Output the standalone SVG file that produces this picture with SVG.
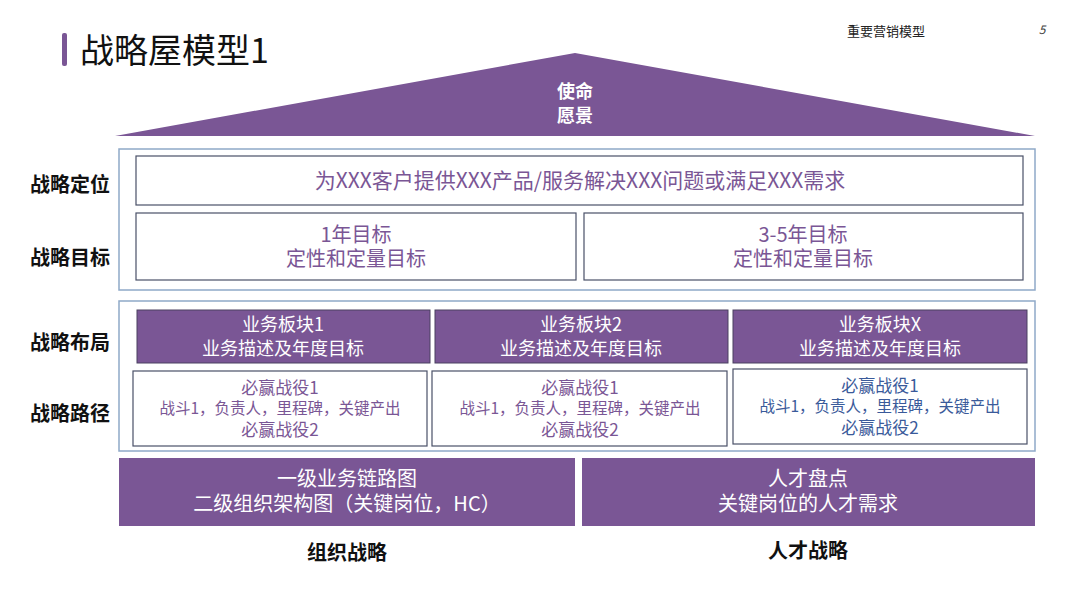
<svg xmlns="http://www.w3.org/2000/svg" width="1080" height="608" viewBox="0 0 1080 608">
<style>
text{font-family:"Noto Sans CJK SC","Noto Sans",sans-serif;text-anchor:middle}
.frame{fill:#fff;stroke:#8fa9c8;stroke-width:1.5}
.wb{fill:#fff;stroke:#4a5068;stroke-width:1.2}
.pb{fill:#7a5695;stroke:#4a4060;stroke-width:1}
.pf{fill:#7a5695}
.lbl{font-size:20px;font-weight:bold;fill:#111}
.pt{font-size:20px;fill:#7a5695}
.wt{font-size:18px;fill:#fff}
.st{font-size:15.5px;fill:#7a5695}
.bt{fill:#3a5a9a}
</style>
<rect x="0" y="0" width="1080" height="608" fill="#fff"/>
<rect x="62" y="33" width="5" height="33" rx="2" fill="#7a5695"/>
<text x="80" y="63" style="text-anchor:start;font-size:34px;fill:#111">战略屋模型1</text>
<text x="886" y="36" style="font-size:13px;fill:#222">重要营销模型</text>
<text x="1042" y="34" style="font-size:12px;font-style:italic;fill:#444">5</text>
<g id="roof"><polygon points="575,53 115,136 1035,136" class="pf"/>
<text x="575" y="98" style="font-size:18px;font-weight:bold;fill:#fff">使命</text>
<text x="575" y="122" style="font-size:18px;font-weight:bold;fill:#fff">愿景</text></g>
<g id="labels">
<text x="70" y="192" class="lbl">战略定位</text>
<text x="70" y="265" class="lbl">战略目标</text>
<text x="70" y="350" class="lbl">战略布局</text>
<text x="70" y="421" class="lbl">战略路径</text>
<text x="347" y="560" class="lbl">组织战略</text>
<text x="808" y="558" class="lbl">人才战略</text>
</g>
<rect x="119" y="149" width="916" height="141" class="frame"/>
<g id="position"><rect x="136" y="156" width="887" height="49" class="wb"/>
<text x="580" y="188" class="pt" style="font-size:21px">为XXX客户提供XXX产品/服务解决XXX问题或满足XXX需求</text></g>
<g id="goal1"><rect x="136" y="213" width="440" height="67" class="wb"/>
<text x="356" y="242" class="pt">1年目标</text><text x="356" y="266" class="pt">定性和定量目标</text></g>
<g id="goal2"><rect x="584" y="213" width="439" height="67" class="wb"/>
<text x="803" y="242" class="pt">3-5年目标</text><text x="803" y="266" class="pt">定性和定量目标</text></g>
<rect x="119" y="301" width="916" height="150" class="frame"/>
<g id="biz1"><rect x="137" y="310" width="293" height="53" class="pb"/>
<text x="283" y="331" class="wt">业务板块1</text><text x="283" y="355" class="wt">业务描述及年度目标</text></g>
<g id="biz2"><rect x="435" y="310" width="293" height="53" class="pb"/>
<text x="581" y="331" class="wt">业务板块2</text><text x="581" y="355" class="wt">业务描述及年度目标</text></g>
<g id="bizx"><rect x="733" y="310" width="294" height="53" class="pb"/>
<text x="880" y="331" class="wt">业务板块X</text><text x="880" y="355" class="wt">业务描述及年度目标</text></g>
<g id="path1"><rect x="133" y="371" width="294" height="75" class="wb"/>
<text x="280" y="394" class="pt" style="font-size:17px">必赢战役1</text>
<text x="280" y="414" class="st">战斗1，负责人，里程碑，关键产出</text>
<text x="280" y="436" class="pt" style="font-size:17px">必赢战役2</text></g>
<g id="path2"><rect x="432" y="371" width="295" height="75" class="wb"/>
<text x="580" y="394" class="pt" style="font-size:17px">必赢战役1</text>
<text x="580" y="414" class="st">战斗1，负责人，里程碑，关键产出</text>
<text x="580" y="436" class="pt" style="font-size:17px">必赢战役2</text></g>
<g id="pathx"><rect x="733" y="369" width="294" height="75" class="wb"/>
<text x="880" y="392" class="pt bt" style="font-size:17px">必赢战役1</text>
<text x="880" y="412" class="st bt">战斗1，负责人，里程碑，关键产出</text>
<text x="880" y="434" class="pt bt" style="font-size:17px">必赢战役2</text></g>
<g id="org"><rect x="119" y="458" width="456" height="68" class="pf"/>
<text x="347" y="486" class="wt" style="font-size:20px">一级业务链路图</text>
<text x="347" y="511" class="wt" style="font-size:20px">二级组织架构图（关键岗位，HC）</text></g>
<g id="talent"><rect x="582" y="458" width="453" height="68" class="pf"/>
<text x="808" y="486" class="wt" style="font-size:20px">人才盘点</text>
<text x="808" y="511" class="wt" style="font-size:20px">关键岗位的人才需求</text></g>
<g id="connectors"/>
</svg>
